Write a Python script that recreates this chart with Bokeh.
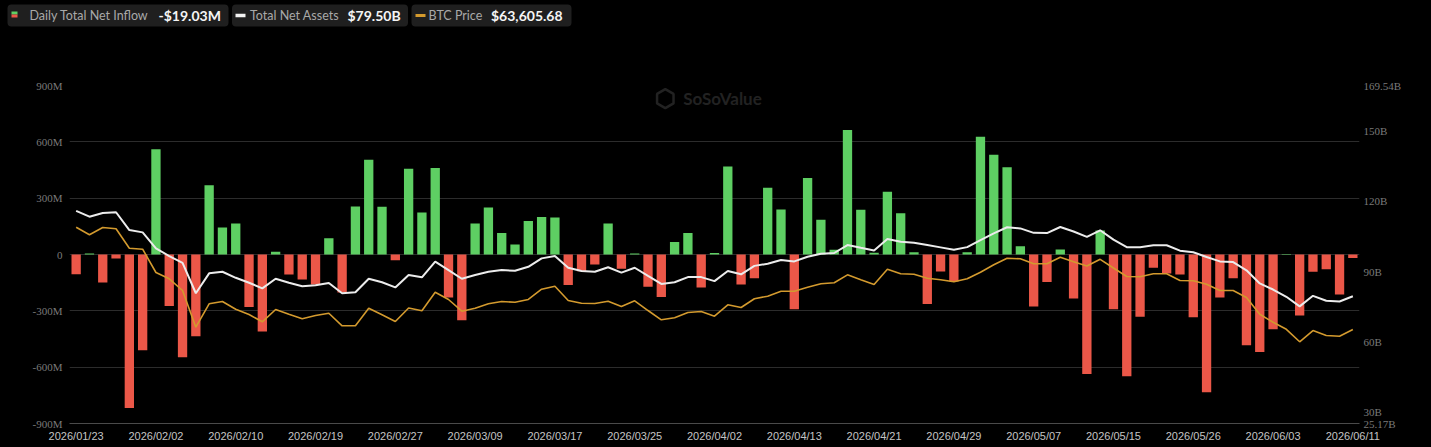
import numpy as np
import pandas as pd
from bokeh.plotting import figure
from bokeh.models import (Range1d, LinearAxis, FixedTicker, BoxAnnotation, Label,
                          ColumnDataSource)
from bokeh.layouts import column
from bokeh.embed import file_html
from bokeh.resources import INLINE

# ---------------- data ----------------
HOLIDAYS = ["2026-02-16", "2026-04-03", "2026-05-25"]
_days = pd.bdate_range("2026-01-23", "2026-06-11")
_days = _days[~_days.isin(pd.to_datetime(HOLIDAYS))]
DATES = [d.strftime("%Y/%m/%d") for d in _days]

TICK_LABELS = ["2026/01/23", "2026/02/02", "2026/02/10", "2026/02/19", "2026/02/27",
               "2026/03/09", "2026/03/17", "2026/03/25", "2026/04/02", "2026/04/13",
               "2026/04/21", "2026/04/29", "2026/05/07", "2026/05/15", "2026/05/26",
               "2026/06/03", "2026/06/11"]

# Daily total net inflow, millions USD
NET_INFLOW_M = [
    -105, 5, -149, -21, -817, -510, 560, -274, -547, -435,
    369, 144, 165, -279, -410, 14, -107, -133, -160, 87,
    -202, 256, 504, 254, -30, 456, 224, 460, -229, -350,
    165, 250, 114, 53, 179, 200, 197, -163, -89, -53,
    165, -76, 5, -172, -226, 67, 115, -176, 8, 469,
    -160, -126, 355, 240, -291, 408, 185, 25, 663, 238,
    9, 334, 220, 12, -263, -91, -144, 12, 627, 531,
    465, 44, -277, -146, 27, -234, -636, 128, -291, -648,
    -332, -71, -101, -107, -334, -734, -229, -126, -483, -519,
    -398, 2, -325, -92, -78, -213, -19.03]

# Total net assets, billions USD
TOTAL_NET_ASSETS_B = [
    116.0, 113.5, 115.1, 115.4, 107.8, 106.8, 100.0, 96.7, 93.8, 80.8,
    89.3, 90.0, 87.4, 85.3, 82.9, 87.0, 85.3, 83.8, 84.2, 85.2,
    80.8, 81.2, 87.0, 85.5, 83.3, 88.6, 87.6, 94.3, 90.7, 87.0,
    88.6, 90.0, 90.7, 90.4, 92.1, 95.7, 96.7, 91.7, 90.3, 90.0,
    91.9, 89.6, 91.7, 88.2, 84.8, 85.5, 87.7, 87.7, 86.0, 90.3,
    88.9, 92.5, 93.4, 95.0, 94.4, 96.4, 97.7, 98.0, 101.4, 100.2,
    99.1, 104.0, 102.8, 102.4, 101.4, 100.4, 99.4, 100.5, 103.5, 106.4,
    109.0, 108.5, 106.6, 106.5, 109.1, 107.2, 104.9, 107.7, 103.7, 100.5,
    100.5, 101.3, 101.3, 99.0, 98.3, 96.3, 94.4, 94.1, 90.6, 85.0,
    82.4, 79.3, 75.2, 79.7, 77.6, 77.3, 79.50]

# BTC price, USD
BTC_PRICE_USD = [
    89850, 87900, 89770, 89440, 84460, 84210, 78230, 76620, 73610, 64200,
    70200, 70790, 68820, 67460, 65590, 68740, 67540, 66360, 67200, 67790,
    64560, 64560, 69070, 67380, 65660, 69130, 68410, 73180, 71310, 68300,
    69070, 70200, 70790, 70610, 71310, 73950, 74720, 71050, 70360, 70280,
    70870, 69510, 70970, 68480, 66100, 66610, 67970, 68230, 67020, 69950,
    69250, 71510, 72150, 73430, 73430, 74460, 75330, 75590, 77640, 76360,
    75150, 79080, 77900, 77800, 76770, 76360, 75850, 76620, 78310, 80210,
    81900, 81750, 80460, 80460, 82160, 81000, 79900, 81620, 79390, 77210,
    77130, 77900, 77900, 76180, 76100, 75200, 73610, 73610, 71820, 67510,
    65480, 63660, 60460, 63350, 62070, 61890, 63605.68]

LEFT_TICKS = [-900, -600, -300, 0, 300, 600, 900]
RIGHT_TICKS = [25.17, 30, 60, 90, 120, 150, 169.54]

# ---------------- style ----------------
GREEN = "#5ecf63"
RED = "#eb5748"
WHITE_LINE = "#ececec"
ORANGE_LINE = "#d39a2e"
BG = "#000000"

W = 1431
N = len(DATES)
xs = list(range(N))

src = ColumnDataSource(dict(
    x=xs,
    flow=NET_INFLOW_M,
    color=[GREEN if v >= 0 else RED for v in NET_INFLOW_M],
    tna=TOTAL_NET_ASSETS_B,
    btc=BTC_PRICE_USD,
))

# ---------------- legend strip ----------------
lg = figure(width=W, height=30, x_range=Range1d(0, W), y_range=Range1d(0, 30),
            output_backend="svg", toolbar_location=None, min_border=0,
            x_axis_location=None, y_axis_location=None, frame_align=False,
            background_fill_color=BG, border_fill_color=BG, outline_line_color=None)
lg.grid.visible = False

for l, r in [(7, 228), (231.5, 407.5), (411, 571)]:
    lg.add_layout(BoxAnnotation(left=l, right=r, bottom=4, top=26, fill_color="#1f1f1f",
                                fill_alpha=1, line_color=None, border_radius=4,
                                level="underlay"))

lg.quad(left=[11, 11], right=[17, 17], top=[19, 16], bottom=[16, 13],
        color=[GREEN, RED], line_color=None)
lg.quad(left=[235], right=[245], top=[16.7], bottom=[13.3], color=["#f2f2f2"],
        line_color=None)
lg.quad(left=[415], right=[425], top=[16.5], bottom=[13.5], color=[ORANGE_LINE],
        line_color=None)

last_flow = NET_INFLOW_M[-1]
flow_txt = ("-" if last_flow < 0 else "") + "$%.2fM" % abs(last_flow)
tna_txt = "$%.2fB" % TOTAL_NET_ASSETS_B[-1]
btc_txt = "${:,.2f}".format(BTC_PRICE_USD[-1])

for x, txt, bold in [(29, "Daily Total Net Inflow", False), (158, flow_txt, True),
                     (249.5, "Total Net Assets", False), (347, tna_txt, True),
                     (428, "BTC Price", False), (490.5, btc_txt, True)]:
    lg.add_layout(Label(x=x, y=15, text=txt, text_baseline="middle", text_align="left",
                        text_font="Lato",
                        text_font_size="14px" if bold else "12.5px",
                        text_font_style="bold" if bold else "normal",
                        text_color="#f5f5f5" if bold else "#a9a9a9"))

# ---------------- main chart ----------------
p = figure(width=W, height=417, x_range=Range1d(-0.5, N - 0.5), y_range=Range1d(-900, 900),
           output_backend="svg", toolbar_location=None, frame_align=False,
           background_fill_color=BG, border_fill_color=BG, outline_line_color=None,
           min_border_left=69, min_border_right=72, min_border_top=55, min_border_bottom=24)
p.extra_y_ranges = {"tna": Range1d(25.17, 169.54), "btc": Range1d(39500, 126200)}

# grid
p.xgrid.grid_line_color = None
p.ygrid.ticker = FixedTicker(ticks=LEFT_TICKS)
p.ygrid.grid_line_color = "#2c2c2c"
p.ygrid.grid_line_width = 1

# left axis
ya = p.yaxis[0]
ya.ticker = FixedTicker(ticks=LEFT_TICKS)
ya.major_label_overrides = {t: ("0" if t == 0 else "%dM" % t) for t in LEFT_TICKS}
ya.axis_line_color = None
ya.major_tick_line_color = None
ya.minor_tick_line_color = None
ya.major_tick_out = 0
ya.major_tick_in = 0
ya.major_label_standoff = 7
ya.major_label_text_font = "Liberation Serif"
ya.major_label_text_font_size = "11px"
ya.major_label_text_color = "#7a7a7a"

# bottom axis
xa = p.xaxis[0]
tick_idx = [DATES.index(t) for t in TICK_LABELS]
xa.ticker = FixedTicker(ticks=tick_idx)
xa.major_label_overrides = {i: DATES[i] for i in tick_idx}
xa.axis_line_color = "#4a4a4a"
xa.major_tick_line_color = None
xa.minor_tick_line_color = None
xa.major_tick_out = 0
xa.major_tick_in = 0
xa.major_label_standoff = 6
xa.major_label_text_font = "Liberation Sans"
xa.major_label_text_font_size = "11px"
xa.major_label_text_color = "#c4c4c4"

# right axis
ra = LinearAxis(y_range_name="tna", ticker=FixedTicker(ticks=RIGHT_TICKS))
ra.major_label_overrides = {t: (("%g" % t) + "B") for t in RIGHT_TICKS}
ra.axis_line_color = None
ra.major_tick_line_color = None
ra.minor_tick_line_color = None
ra.major_tick_out = 0
ra.major_tick_in = 0
ra.major_label_standoff = 4
ra.major_label_text_font = "Liberation Serif"
ra.major_label_text_font_size = "11px"
ra.major_label_text_color = "#7a7a7a"
p.add_layout(ra, "right")

# watermark
p.scatter(x=[44.3], y=[830], marker="hex", size=19, angle=np.pi / 2,
          fill_color=None, line_color="#222222", line_width=2.5)
p.add_layout(Label(x=48.6, y=830, text="SoSoValue", text_align="center",
                   text_baseline="middle", text_font="Lato", text_font_style="bold",
                   text_font_size="17px", text_color="#222222"))

# bars and lines
p.vbar(x="x", top="flow", bottom=0, width=0.7, fill_color="color", line_color=None,
       source=src)
p.line(x="x", y="btc", y_range_name="btc", line_color=ORANGE_LINE, line_width=1.6,
       source=src)
p.line(x="x", y="tna", y_range_name="tna", line_color=WHITE_LINE, line_width=2,
       source=src)

layout = column(lg, p, spacing=0, styles={"background-color": BG})
html = file_html(layout, INLINE)
html = html.replace("<body>", '<body style="margin:0;background-color:#000000;">', 1)
open("out.html", "w").write(html)
